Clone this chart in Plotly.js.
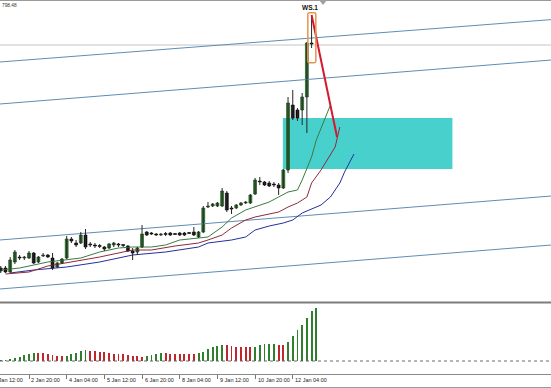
<!DOCTYPE html>
<html><head><meta charset="utf-8">
<script src="https://cdn.plot.ly/plotly-3.0.1.min.js"></script>
<style>html,body{margin:0;padding:0;background:#fff;}#chart{width:551px;height:388px;}</style>
</head><body><div id="chart"></div>
<script>
// H4 bars, index 0 = 1 Jan 20:00 (price scale arbitrary units)
const barOpen = [582,582,578,588,593,592,592,597,588,594, 595,592,583,587,592,611,607,607,615,606,
  605,604,603,602,605,606,605,604,599,598, 603,618,617,616,615,616,617,616,617,617,
  617,618,613,618,643,644,644,644,657,642, 642,645,647,647,656,669,668,667,666,665,
  662,680,745,740,740,753,807];
const barHigh = [584,584,593,600,595,594,599,598,594,597, 596,597,588,592,614,613,610,618,621,608,
  607,606,604,607,608,607,606,605,602,603, 625,619,618,617,617,618,618,617,618,618,
  618,623,619,644,648,647,648,662,659,644, 646,648,649,656,672,673,669,669,668,667,
  681,753,760,742,757,808,835];
const barLow = [577,577,577,586,590,590,591,586,587,593, 592,580,582,586,591,607,603,606,601,603,
  602,602,599,601,603,603,603,598,590,595, 602,614,615,614,614,614,614,615,614,614,
  616,614,612,617,642,643,643,643,638,636, 641,644,646,646,655,665,664,663,663,655,
  661,677,730,729,725,717,802];
const barClose = [579,578,590,598,592,593,597,587,593,595, 593,582,587,591,611,609,605,615,603,605,
  604,603.5,601,606,607,605,604.5,599,597,602, 616,615,616,615,616,615.5,615,615.5,615,615,
  616.5,615,618,642,644,646,647,659,640,641, 645,647,648,655,670,668,665,664,665,662,
  680,747,732,732,753,807,806];

// Awesome-oscillator style histogram
const aoValues = [1,1.5,2,2.7,4.3,6,7,7.7,7.7,7.7, 7,6,5.3,5.3,5.5,6.7,8.3,10,11,10.3,
  10,9.3,8.7,7.7,7,6.7,6.7,6,5.3,5, 4.3,5.3,6,7,8.3,7.7,7,6.7,6.7,6.7,
  6.7,6.7,7.7,9.3,11.7,13.7,15.3,16.3,16,15.3, 14.3,14.3,13.7,13.7,14.3,15.7,16.7,17.3,17.5,16.3,
  16,19,25,30.7,36.3,43.3,50,53.3];

// Alligator lines (shifted forward)
const lipsIdx = [0,4,10,17,21,25,28,32,35,38,42,44,47,49,52,54,57,59,61,63,64,66,67,70];
const lipsVal = [580,582,588,592,598,602,603,603,605,610,612,613,623,632,640,643,648,653,658,660,670,693,710,745];
const teethIdx = [1,6,10,14,21,28,32,37,42,44,47,49,52,54,59,61,63,65,66,68,71,72];
const teethVal = [576,578,584,587,593,600,600,604,607,610,615,622,630,633,638,643,647,653,667,680,703,723];
const jawIdx = [2,7,14,21,28,35,42,44,49,52,54,57,60,62,64,67,68,70,72,73,75];
const jawVal = [577,580,583,588,595,598,603,607,610,613,620,624,627,630,637,643,645,653,667,678,696];

// Trend channels (two anchor bars each)
const channelIdx = [-1, 118];
const channelA = [787.7, 830.8];
const channelB = [745.7, 790.4];
const channelC = [609.7, 654.4];
const channelD = [560.7, 605.4];

const zoneIdx = [59.9, 95.9];
const zonePrice = [681, 732];
const projIdx = [66, 71.4];
const projPrice = [835, 713];
const markIdx = [65.2, 66.9];
const markPrice = [787.3, 837.3];
const markLabel = 'WS.1';
const bidPrice = 805;
const topLabel = '798.48';

const tickIdx = [-2, 6, 14, 22, 30, 38, 46, 54, 62];
const tickText = ['1 Jan 12:00','2 Jan 20:00','4 Jan 04:00','5 Jan 12:00','6 Jan 20:00','8 Jan 04:00','9 Jan 12:00','10 Jan 20:00','12 Jan 04:00'];

const xRange = [-0.157, 116.83];
const H = 388, W = 551;
const py = p => (H - p) / H; // pixel row -> paper y
const px = i => (i - xRange[0]) / (xRange[1] - xRange[0]); // bar index -> paper x

const idx = barOpen.map((_, i) => i);
const traces = [];

// channels
[channelA, channelB, channelC, channelD].forEach(c => traces.push({
  type:'scatter', mode:'lines', x:channelIdx, y:c, xaxis:'x', yaxis:'y',
  line:{color:'#5f8db3', width:1}, hoverinfo:'skip'
}));

// alligator
traces.push({type:'scatter', mode:'lines', x:jawIdx, y:jawVal, line:{color:'#24309a', width:1}, hoverinfo:'skip'});
traces.push({type:'scatter', mode:'lines', x:teethIdx, y:teethVal, line:{color:'#8e2a3c', width:1}, hoverinfo:'skip'});
traces.push({type:'scatter', mode:'lines', x:lipsIdx, y:lipsVal, line:{color:'#3c7a42', width:1}, hoverinfo:'skip'});

// wicks
const wx = [], wy = [];
idx.forEach(i => { wx.push(i, i, null); wy.push(barLow[i], barHigh[i], null); });
traces.push({type:'scatter', mode:'lines', x:wx, y:wy, line:{color:'#262626', width:1}, hoverinfo:'skip'});

// bodies
const bull = idx.map(i => barClose[i] > barOpen[i]);
traces.push({
  type:'bar', x:idx, base:idx.map(i => Math.min(barOpen[i], barClose[i])),
  y:idx.map(i => Math.max(Math.abs(barClose[i] - barOpen[i]), 1)),
  width:0.62,
  marker:{color:bull.map(b => b ? '#2a7d2a' : '#111'), line:{color:bull.map(b => b ? '#164016' : '#000'), width:0.6}},
  hoverinfo:'skip'
});

// projection line
traces.push({type:'scatter', mode:'lines', x:projIdx, y:projPrice, line:{color:'#d4192f', width:2}, hoverinfo:'skip'});

// AO histogram
const aoIdx = aoValues.map((_, i) => i);
traces.push({
  type:'bar', x:aoIdx, y:aoValues, xaxis:'x2', yaxis:'y2', width:0.4,
  marker:{color:aoValues.map((v, i) => (i === 0 || v > aoValues[i-1]) ? '#2f7f2f' : '#c0262e'), line:{width:0}},
  hoverinfo:'skip'
});

const r = 0.35, rp = 1.6;
const [bx0, bx1] = markIdx, [by0, by1] = markPrice;
const boxPath = `M ${bx0+r},${by1} L ${bx1-r},${by1} Q ${bx1},${by1} ${bx1},${by1-rp} L ${bx1},${by0+rp} Q ${bx1},${by0} ${bx1-r},${by0} L ${bx0+r},${by0} Q ${bx0},${by0} ${bx0},${by0+rp} L ${bx0},${by1-rp} Q ${bx0},${by1} ${bx0+r},${by1} Z`;

const shapes = [
  {type:'rect', xref:'x', yref:'y', x0:zoneIdx[0], x1:zoneIdx[1], y0:zonePrice[0], y1:zonePrice[1], fillcolor:'#48d1cc', line:{width:0}, layer:'below'},
  {type:'line', xref:'paper', yref:'y', x0:0, x1:1, y0:bidPrice, y1:bidPrice, line:{color:'#c4c4c4', width:1}, layer:'below'},
  {type:'path', xref:'x', yref:'y', path:boxPath, line:{color:'#e6954e', width:1.5}},
  {type:'line', xref:'paper', yref:'y2', x0:0, x1:1, y0:0, y1:0, line:{color:'#6a6a6a', width:1, dash:'dot'}},
  {type:'line', xref:'paper', yref:'paper', x0:0, x1:1, y0:py(0.5), y1:py(0.5), line:{color:'#9a9a9a', width:1}},
  {type:'line', xref:'paper', yref:'paper', x0:0, x1:1, y0:py(302.5), y1:py(302.5), line:{color:'#7c7c7c', width:2}},
  {type:'line', xref:'paper', yref:'paper', x0:0, x1:1, y0:py(374.5), y1:py(374.5), line:{color:'#8a8a8a', width:1}},
  {type:'line', xref:'paper', yref:'paper', x0:0, x1:1, y0:py(387.5), y1:py(387.5), line:{color:'#9a9a9a', width:1}},
  {type:'path', xref:'paper', yref:'paper', path:`M ${319/W},${py(0)} L ${327/W},${py(0)} L ${323/W},${py(5)} Z`, fillcolor:'#a0a0a0', line:{width:0}}
];

const annotations = [
  {xref:'x', yref:'y', x:(markIdx[0]+markIdx[1])/2 - 0.4, y:markPrice[1] + 5, text:'<b>'+markLabel+'</b>', showarrow:false,
   font:{family:'Liberation Sans', size:6.5, color:'#111'}, xanchor:'center', yanchor:'middle'},
  {xref:'paper', yref:'paper', x:0, y:py(5.5), text:topLabel, showarrow:false, xanchor:'left', yanchor:'middle',
   font:{family:'Liberation Sans', size:4.8, color:'#333'}}
];
// time-axis labels, drawn to the right of each tick as in the terminal
tickIdx.forEach((t, k) => annotations.push({
  xref:'paper', yref:'paper', x:px(t), y:py(379.5), text:tickText[k], showarrow:false,
  xanchor:'left', yanchor:'middle', xshift:0.5, font:{family:'Liberation Sans', size:5.5, color:'#222'}
}));

const layout = {
  width:551, height:388, margin:{l:0, r:0, t:0, b:0},
  paper_bgcolor:'#ffffff', plot_bgcolor:'#ffffff', showlegend:false, barmode:'overlay', bargap:0,
  xaxis:{domain:[0,1], range:xRange, anchor:'y', showticklabels:false, showgrid:false, zeroline:false, ticks:'', showline:false},
  yaxis:{domain:[py(302),1], range:[548,850], showticklabels:false, showgrid:false, zeroline:false, ticks:'', showline:false},
  xaxis2:{domain:[0,1], range:xRange, anchor:'y2', tickvals:tickIdx, ticktext:tickText, showticklabels:false,
    ticks:'outside', ticklen:3.5, tickwidth:1, tickcolor:'#777', showgrid:false, zeroline:false, showline:false},
  yaxis2:{domain:[py(374), py(303.5)], range:[-13,57.5], showticklabels:false, showgrid:false, zeroline:false, ticks:'', showline:false},
  shapes:shapes, annotations:annotations
};

Plotly.newPlot('chart', traces, layout, {staticPlot:true, displayModeBar:false});
</script>
</body></html>
